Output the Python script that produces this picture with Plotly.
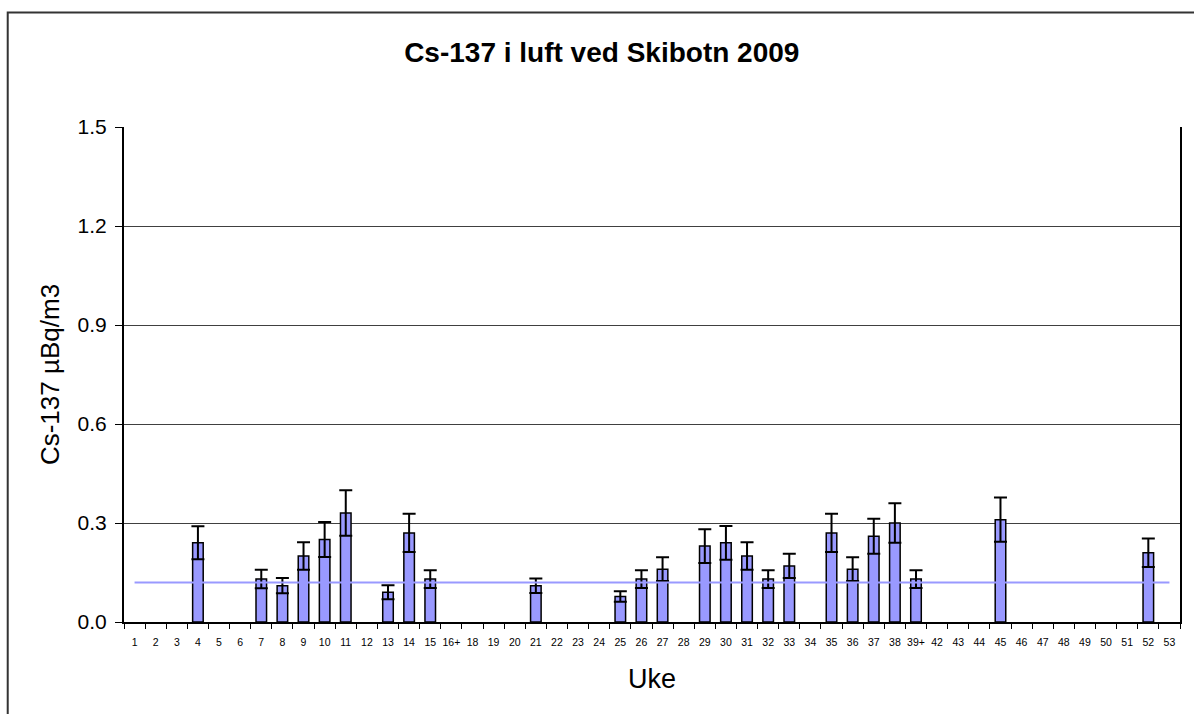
import plotly.graph_objects as go

# Weekly Cs-137 air concentrations at Skibotn, 2009 (µBq/m3)
uke = (
    [str(w) for w in range(1, 16)]
    + ["16+"]
    + [str(w) for w in range(18, 39)]
    + ["39+"]
    + [str(w) for w in range(42, 54)]
)

konsentrasjon = {
    "4": 0.24, "7": 0.13, "8": 0.11, "9": 0.20, "10": 0.25, "11": 0.33,
    "13": 0.09, "14": 0.27, "15": 0.13, "21": 0.11, "25": 0.077,
    "26": 0.13, "27": 0.16, "29": 0.23, "30": 0.24, "31": 0.20,
    "32": 0.13, "33": 0.17, "35": 0.27, "36": 0.16, "37": 0.26,
    "38": 0.30, "39+": 0.13, "45": 0.31, "52": 0.21,
}

usikkerhet = {
    "4": 0.050, "7": 0.028, "8": 0.023, "9": 0.042, "10": 0.053, "11": 0.069,
    "13": 0.021, "14": 0.058, "15": 0.027, "21": 0.022, "25": 0.016,
    "26": 0.027, "27": 0.036, "29": 0.051, "30": 0.051, "31": 0.042,
    "32": 0.027, "33": 0.037, "35": 0.058, "36": 0.036, "37": 0.053,
    "38": 0.060, "39+": 0.027, "45": 0.067, "52": 0.043,
}

deteksjonsgrense = 0.12

y_ticks = [0.0, 0.3, 0.6, 0.9, 1.2, 1.5]

verdier = [konsentrasjon.get(u) for u in uke]
feil = [usikkerhet.get(u) for u in uke]

FONT = "Arial, Liberation Sans, sans-serif"

fig = go.Figure()

fig.add_trace(go.Bar(
    x=uke,
    y=verdier,
    marker=dict(color="#9999FF", line=dict(color="#000000", width=1.5)),
    error_y=dict(type="data", array=feil, visible=True,
                 color="#000000", thickness=2, width=6.5),
    showlegend=False,
))

fig.add_trace(go.Scatter(
    x=[uke[0], uke[-1]],
    y=[deteksjonsgrense, deteksjonsgrense],
    mode="lines",
    line=dict(color="#9999FF", width=2),
    showlegend=False,
))

fig.update_layout(
    width=1194,
    height=714,
    margin=dict(l=124, r=12, t=127, b=92),
    paper_bgcolor="#FFFFFF",
    plot_bgcolor="#FFFFFF",
    bargap=0.5,
    font=dict(family=FONT, color="#000000"),
    title=dict(
        text="<b>Cs-137 i luft ved Skibotn 2009</b>",
        font=dict(family=FONT, size=28, color="#000000"),
        x=0.504, xref="container", xanchor="center",
        y=1 - 52 / 714, yref="container", yanchor="middle",
    ),
    xaxis=dict(
        type="category",
        categoryorder="array",
        categoryarray=uke,
        tickson="boundaries",
        ticks="outside",
        ticklen=5,
        tickwidth=1,
        tickcolor="#000000",
        tickangle=0,
        tickfont=dict(family=FONT, size=10.5, color="#000000"),
        ticklabelstandoff=9,
        showline=True,
        linecolor="#000000",
        linewidth=2,
        showgrid=False,
        title=dict(text="Uke", font=dict(family=FONT, size=27, color="#000000"),
                   standoff=23),
    ),
    yaxis=dict(
        range=[0, 1.5],
        tickvals=y_ticks,
        tickformat=".1f",
        ticks="outside",
        ticklen=7,
        tickwidth=1,
        tickcolor="#000000",
        tickfont=dict(family=FONT, size=21, color="#000000"),
        ticklabelstandoff=4,
        showline=True,
        mirror=True,
        linecolor="#000000",
        linewidth=2,
        showgrid=True,
        gridcolor="#404040",
        gridwidth=1,
        zeroline=False,
        title=dict(text="Cs-137 µBq/m3", font=dict(family=FONT, size=26, color="#000000"),
                   standoff=10),
    ),
    shapes=[
        dict(
            type="rect", xref="paper", yref="paper",
            x0=(7.5 - 124) / 1058, x1=(1210 - 124) / 1058,
            y0=(622 - 730) / 495, y1=1 + (127 - 12.5) / 495,
            line=dict(color="#333333", width=2),
            fillcolor="rgba(0,0,0,0)",
            layer="below",
        ),
    ],
)

fig.write_html("out.html")
